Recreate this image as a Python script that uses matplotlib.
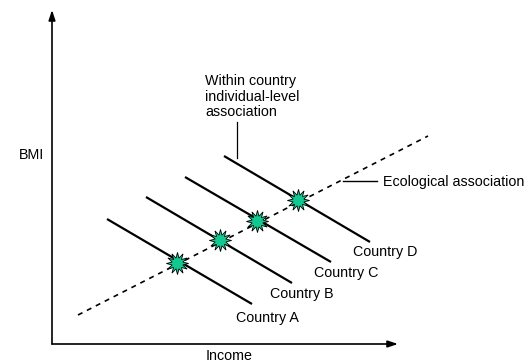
import matplotlib.pyplot as plt

plt.rcParams['font.family'] = ['Liberation Sans', 'DejaVu Sans']

# schematic coordinates (income, BMI)
countries = ['Country A', 'Country B', 'Country C', 'Country D']
line_start_x = [55, 94, 133, 172]
line_start_y = [125, 147, 167, 188]
line_end_x = [200, 240, 279, 318]
line_end_y = [40, 61, 82, 102]
mean_x = [125, 168, 205, 246]
mean_y = [81, 104, 123, 144]
label_x = [215, 250, 294, 333]
label_y = [26, 50, 71, 92]
eco_x = [26, 376]
eco_y = [29, 208]

fig = plt.figure(figsize=(5.3, 3.64), dpi=100)
ax = fig.add_axes([52 / 530, 20 / 364, 346 / 530, 334 / 364])
ax.set_xlim(0, 346)
ax.set_ylim(0, 334)
ax.axis('off')

# axes with arrows
arrow = dict(arrowstyle='-|>,head_length=0.6,head_width=0.2', lw=1.2, color='black',
             shrinkA=0, shrinkB=0)
ax.annotate('', xy=(0, 334), xytext=(0, 0), arrowprops=arrow, annotation_clip=False)
ax.annotate('', xy=(346, 0), xytext=(0, 0), arrowprops=arrow, annotation_clip=False)

# ecological association
ax.plot(eco_x, eco_y, color='black', lw=1.2, ls=(0, (3, 3)), zorder=2, clip_on=False)

# within-country lines
for i in range(len(countries)):
    ax.plot([line_start_x[i], line_end_x[i]], [line_start_y[i], line_end_y[i]],
            color='black', lw=1.6, solid_capstyle='butt', zorder=1, clip_on=False)
    ax.text(label_x[i], label_y[i], countries[i], fontsize=10.3, ha='center', va='center')

ax.plot(mean_x, mean_y, ls='none', marker=(12, 1, 0), markersize=16,
        markerfacecolor='#10c890', markeredgecolor='black', markeredgewidth=0.6, zorder=3)

# annotations
ax.plot([291, 325], [163, 163], color='black', lw=1.0, clip_on=False)
ax.text(331, 162, 'Ecological association', fontsize=10.3, ha='left', va='center')

ax.plot([185, 185], [186, 222], color='black', lw=0.9)
ax.text(153, 270, 'Within country\nindividual-level\nassociation', fontsize=10.3,
        ha='left', va='top', linespacing=1.15)

ax.text(-21, 189, 'BMI', fontsize=10.3, ha='center', va='center')
ax.text(177, -12, 'Income', fontsize=10.3, ha='center', va='center')

fig.savefig('out.png', dpi=100)
